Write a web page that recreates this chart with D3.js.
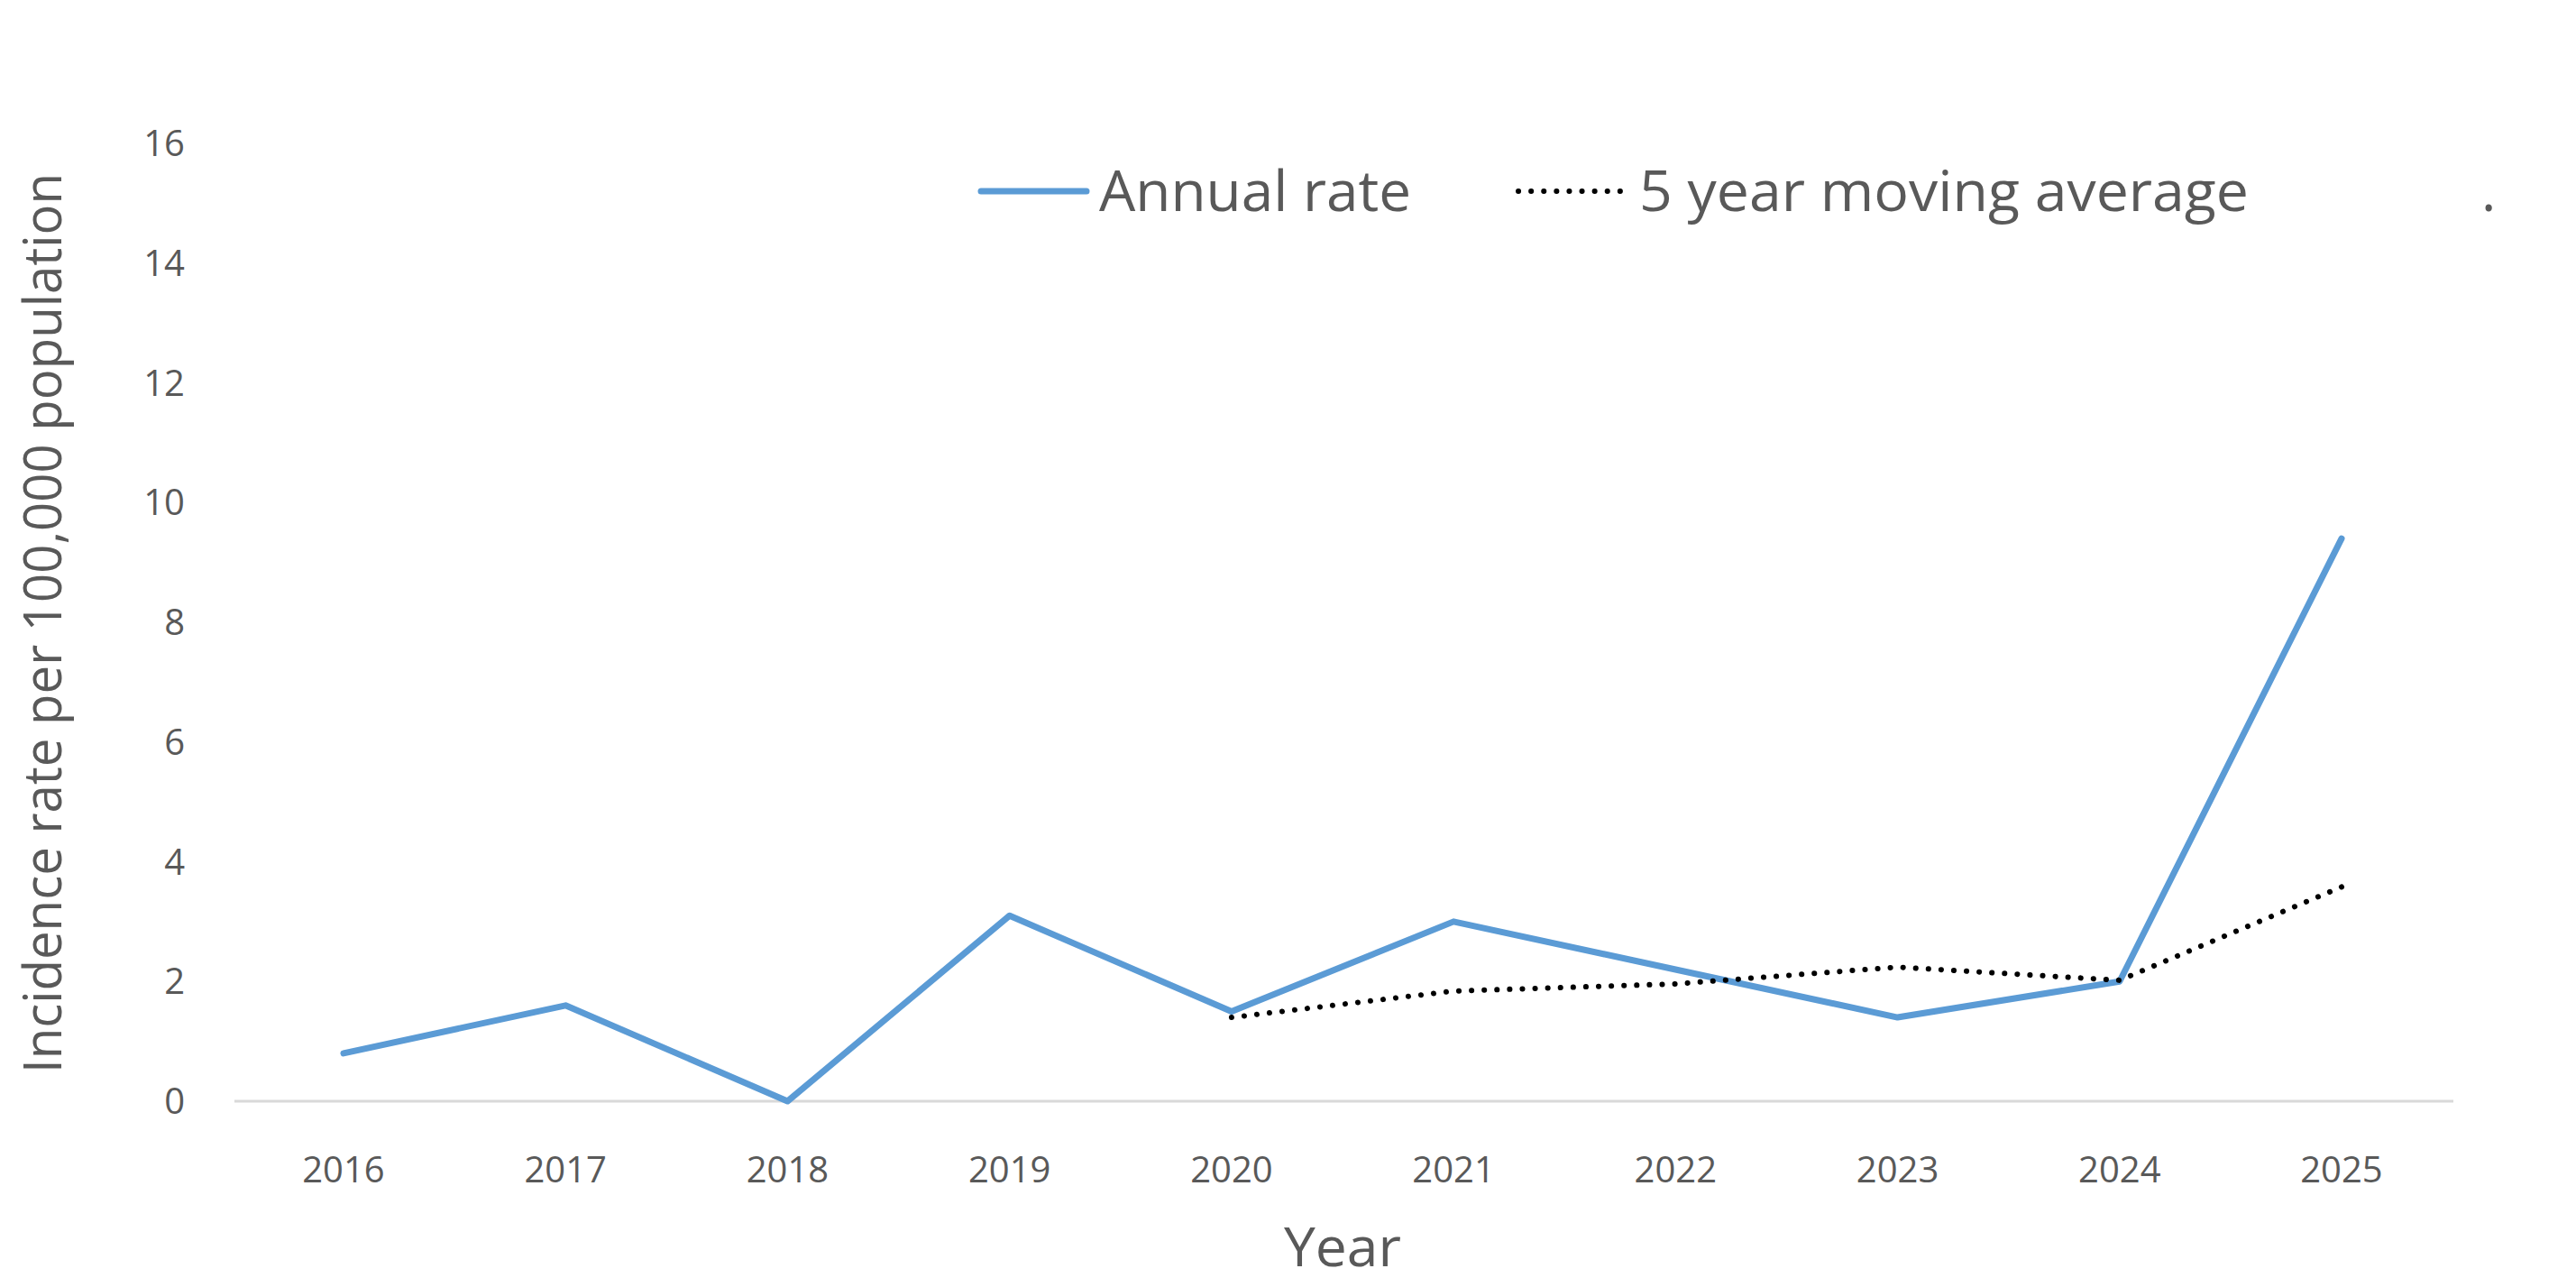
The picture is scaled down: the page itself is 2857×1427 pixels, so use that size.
<!DOCTYPE html><html><head><meta charset="utf-8"><script src="https://cdn.jsdelivr.net/npm/d3@7"></script>
<style>body{margin:0;background:#fff}</style></head><body><svg id="c" width="2857" height="1427"></svg><script>
const years=[2016,2017,2018,2019,2020,2021,2022,2023,2024,2025];
const annualRate=[0.8,1.6,0,3.1,1.5,3.0,2.2,1.4,2.0,9.4];
const maYears=[2020,2021,2022,2023,2024,2025];
const movingAvg=[1.4,1.84,1.96,2.24,2.02,3.58];
const yTicks=[0,2,4,6,8,10,12,14,16];
const svg=d3.select("#c");
const font="'Open Sans', sans-serif", tc="#595959";
const x=d3.scalePoint().domain(years).range([381,2597]);
const y=d3.scaleLinear().domain([0,16]).range([1221,159]);
svg.append("line").attr("x1",260).attr("x2",2721).attr("y1",y(0)).attr("y2",y(0)).attr("stroke","#d9d9d9").attr("stroke-width",3);
svg.selectAll(".yt").data(yTicks).join("text").attr("x",205).attr("y",d=>y(d)).attr("dy","0.35em").attr("text-anchor","end").attr("font-family",font).attr("font-size",40).attr("fill",tc).text(d=>d);
svg.selectAll(".xt").data(years).join("text").attr("x",d=>x(d)).attr("y",1297).attr("dy","0.35em").attr("text-anchor","middle").attr("font-family",font).attr("font-size",40).attr("fill",tc).text(d=>d);
svg.append("text").attr("transform","translate(48,691) rotate(-90)").attr("dy","0.35em").attr("text-anchor","middle").attr("font-family",font).attr("font-size",58).attr("fill",tc).attr("textLength",998).attr("lengthAdjust","spacingAndGlyphs").text("Incidence rate per 100,000 population");
svg.append("text").attr("x",1489).attr("y",1383).attr("dy","0.35em").attr("text-anchor","middle").attr("font-family",font).attr("font-size",60).attr("fill",tc).attr("textLength",130).attr("lengthAdjust","spacingAndGlyphs").text("Year");
const line=d3.line().x(d=>x(d[0])).y(d=>y(d[1]));
svg.append("path").attr("d",line(years.map((d,i)=>[d,annualRate[i]]))).attr("fill","none").attr("stroke","#5B9BD5").attr("stroke-width",7).attr("stroke-linejoin","round").attr("stroke-linecap","round");
svg.append("path").attr("d",line(maYears.map((d,i)=>[d,movingAvg[i]]))).attr("fill","none").attr("stroke","#000").attr("stroke-width",6).attr("stroke-dasharray","0.1 14").attr("stroke-linecap","round");
// legend
svg.append("line").attr("x1",1088).attr("x2",1205).attr("y1",212).attr("y2",212).attr("stroke","#5B9BD5").attr("stroke-width",7).attr("stroke-linecap","round");
svg.append("text").attr("x",1219).attr("y",212).attr("dy","0.35em").attr("font-family",font).attr("font-size",62).attr("fill",tc).attr("textLength",346).attr("lengthAdjust","spacingAndGlyphs").text("Annual rate");
svg.append("line").attr("x1",1684).attr("x2",1802).attr("y1",212).attr("y2",212).attr("stroke","#000").attr("stroke-width",6).attr("stroke-dasharray","0.1 14").attr("stroke-linecap","round");
svg.append("text").attr("x",1818).attr("y",212).attr("dy","0.35em").attr("font-family",font).attr("font-size",62).attr("fill",tc).attr("textLength",676).attr("lengthAdjust","spacingAndGlyphs").text("5 year moving average");
svg.append("text").attr("x",2752).attr("y",212).attr("dy","0.35em").attr("font-family",font).attr("font-size",62).attr("fill",tc).text(".");
</script></body></html>
